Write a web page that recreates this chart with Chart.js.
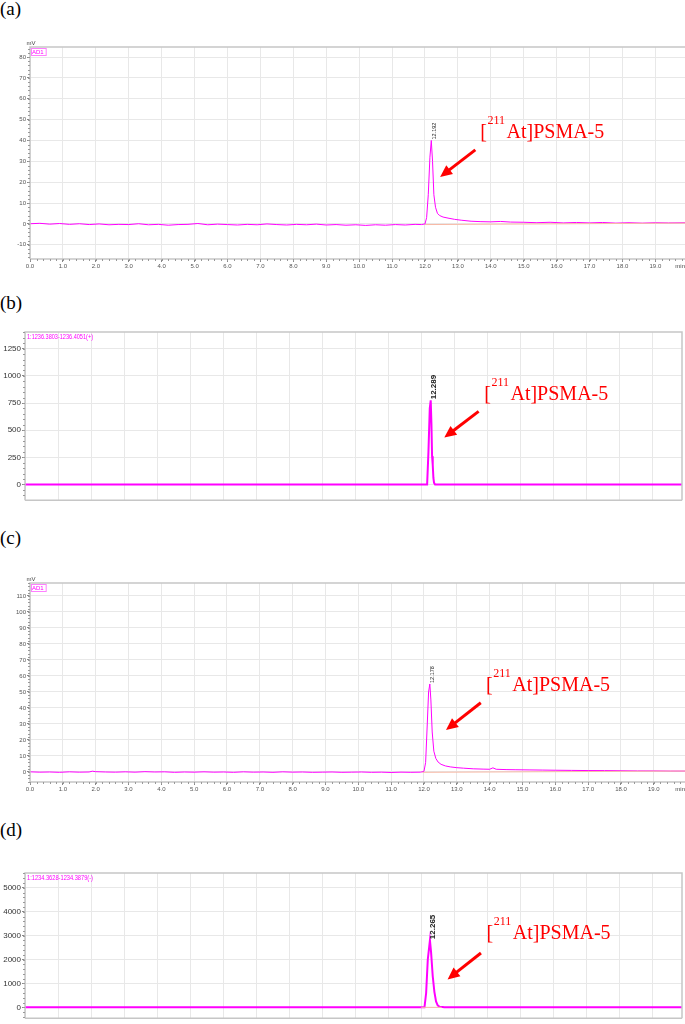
<!DOCTYPE html>
<html lang="en">
  <head>
    <meta charset="UTF-8" />
    <title>[211At]PSMA-5 chromatograms</title>
    <script src="https://cdn.jsdelivr.net/npm/chart.js@4.4.1/dist/chart.umd.min.js"></script>
    <style>
      body {
        margin: 0;
        background: #fff;
        width: 685px;
        height: 1024px;
        position: relative;
        overflow: hidden;
        font-family: 'Liberation Serif', 'Times New Roman', serif;
      }
      .panel-label {
        position: absolute;
        left: 0;
        font-size: 19px;
        line-height: 22px;
      }
      .panel {
        position: absolute;
        left: 0;
        width: 685px;
      }
    </style>
  </head>
  <body>
    <div class="panel-label" style="top: -2px">(a)</div>
    <div class="panel" style="top: 38px; height: 242px">
      <canvas id="chartA" width="685" height="242"></canvas>
    </div>

    <div class="panel-label" style="top: 292px">(b)</div>
    <div class="panel" style="top: 326px; height: 180px">
      <canvas id="chartB" width="685" height="180"></canvas>
    </div>

    <div class="panel-label" style="top: 527px">(c)</div>
    <div class="panel" style="top: 574px; height: 226px">
      <canvas id="chartC" width="685" height="226"></canvas>
    </div>

    <div class="panel-label" style="top: 819px">(d)</div>
    <div class="panel" style="top: 866px; height: 158px">
      <canvas id="chartD" width="685" height="158"></canvas>
    </div>

    <script>
      // --- data (time in min) ---
      const timesA = [
        0, 0.3, 0.6, 0.9, 1.2, 1.5, 1.8, 2.1, 2.4, 2.7, 3.0, 3.3, 3.6, 3.9, 4.2,
        4.5, 4.8, 5.1, 5.4, 5.7, 6.0, 6.3, 6.6, 6.9, 7.2, 7.5, 7.8, 8.1, 8.4,
        8.7, 9.0, 9.3, 9.6, 9.9, 10.2, 10.5, 10.8, 11.1, 11.4, 11.7, 11.9,
        12.0, 12.05, 12.1, 12.15, 12.192, 12.23, 12.27, 12.32, 12.38, 12.45,
        12.55, 12.7, 12.9, 13.1, 13.4, 13.7, 14.0, 14.3, 14.6, 15.0, 15.4,
        15.8, 16.2, 16.6, 17.0, 17.4, 17.8, 18.2, 18.6, 19.0, 19.4, 19.9,
      ];
      const valuesA = [
        0.1, 0.3, -0.1, 0.2, -0.2, 0.1, -0.3, 0.0, -0.4, -0.2, -0.3, 0.1, -0.4,
        -0.2, -0.6, -0.3, -0.2, 0.2, -0.4, -0.1, -0.3, -0.5, -0.2, -0.4, 0.0,
        -0.3, -0.5, -0.2, -0.4, -0.1, -0.5, -0.3, -0.6, -0.4, -0.7, -0.4,
        -0.6, -0.3, -0.5, -0.2, -0.3,
        0.0, 3, 14, 32, 40, 30, 14, 8, 5, 4,
        3.3, 2.8, 2.2, 1.8, 1.3, 1.1, 1.0, 1.2, 0.9, 0.8, 0.6,
        0.8, 0.5, 0.7, 0.5, 0.7, 0.4, 0.6, 0.4, 0.6, 0.5, 0.6,
      ];
      const baseTimesA = [12.0, 19.9];
      const baseValuesA = [-0.3, 0.4];

      const timesB = [0, 12.18, 12.22, 12.26, 12.289, 12.31, 12.33, 12.35, 12.37, 12.39, 12.42, 19.9];
      const valuesB = [0, 0, 300, 700, 775, 560, 260, 180, 60, 15, 0, 0];

      const timesC = [
        0, 0.3, 0.6, 0.9, 1.2, 1.5, 1.8, 1.9, 2.0, 2.3, 2.6, 2.9, 3.2, 3.5,
        3.8, 4.1, 4.4, 4.7, 5.0, 5.3, 5.6, 5.9, 6.2, 6.5, 6.8, 7.1, 7.4, 7.7,
        8.0, 8.3, 8.6, 8.9, 9.2, 9.5, 9.8, 10.1, 10.4, 10.7, 11.0, 11.3, 11.6,
        11.9, 12.0, 12.05, 12.1, 12.14, 12.178, 12.21, 12.25, 12.3, 12.36,
        12.43, 12.52, 12.65, 12.8, 13.0, 13.2, 13.5, 13.8, 14.0, 14.1, 14.2,
        14.5, 14.8, 15.2, 15.6, 16.0, 16.5, 17.0, 17.5, 18.0, 18.5, 19.0, 19.5,
        19.95,
      ];
      const valuesC = [
        0.1, -0.1, 0.0, -0.2, 0.1, -0.1, 0.0, 0.5, 0.2, 0.0, -0.1, 0.1, -0.1,
        0.2, 0.0, 0.1, -0.2, 0.0, -0.1, 0.1, -0.1, 0.0, -0.2, 0.1, -0.1, 0.0,
        -0.2, 0.1, -0.1, 0.0, -0.2, -0.1, 0.0, -0.2, -0.1, 0.0, -0.2, -0.1,
        -0.3, -0.1, -0.2,
        -0.1, 0.4, 6, 30, 50, 55, 45, 25, 13, 8.5,
        6.2, 4.8, 3.8, 3.2, 2.7, 2.4, 2.0, 1.8, 1.7, 2.6, 1.7,
        1.5, 1.4, 1.3, 1.2, 1.1, 1.0, 0.9, 0.9, 0.8, 0.7, 0.7, 0.6,
        0.6,
      ];
      const baseTimesC = [11.95, 19.95];
      const baseValuesC = [-0.2, 0.6];

      const timesD = [0, 12.1, 12.15, 12.2, 12.265, 12.3, 12.35, 12.4, 12.45, 12.5, 12.55, 12.65, 12.7, 19.9];
      const valuesD = [0, 0, 600, 2000, 2810, 2300, 1300, 650, 250, 80, 30, 10, 0, 0];
      const baseTimesD = [12.0, 12.62];
      const baseValuesD = [0, 0];

      // tick values
      const minuteTicks = [0, 1, 2, 3, 4, 5, 6, 7, 8, 9, 10, 11, 12, 13, 14, 15, 16, 17, 18, 19];
      const yTicksA = [-10, 0, 10, 20, 30, 40, 50, 60, 70, 80];
      const yTicksB = [0, 250, 500, 750, 1000, 1250];
      const yTicksC = [0, 10, 20, 30, 40, 50, 60, 70, 80, 90, 100, 110];
      const yTicksD = [0, 1000, 2000, 3000, 4000, 5000];

      // peaks
      const peakTimes = [12.192, 12.289, 12.178, 12.265];
      const peakHeights = [40, 775, 55, 2810];
      const peakLabels = ['12.192', '12.289', '12.178', '12.265'];

      const tags = ['AD1', '1:1236.3803-1236.4051(+)', 'AD1', '1:1234.3628-1234.3879(-)'];

      const pts = (xs, ys) => xs.map((t, i) => ({ x: t, y: ys[i] }));

      // draws frame, minor ticks, units, peak label, tag and the red annotation
      const chromDeco = {
        id: 'chromDeco',
        afterDraw(chart, args, o) {
          const ctx = chart.ctx;
          const area = chart.chartArea;
          const xs = chart.scales.x;
          const ys = chart.scales.y;
          ctx.save();

          ctx.strokeStyle = '#c6c6c6';
          ctx.lineWidth = 1.5;
          ctx.beginPath();
          ctx.moveTo(area.left, area.bottom);
          ctx.lineTo(area.left, area.top);
          ctx.lineTo(area.right, area.top);
          if (o.rightBorder) ctx.lineTo(area.right, area.bottom);
          ctx.moveTo(area.left, area.bottom);
          ctx.lineTo(area.right, area.bottom);
          ctx.stroke();

          // minor ticks
          ctx.strokeStyle = '#999';
          ctx.lineWidth = 1;
          ctx.beginPath();
          const n0 = Math.ceil(ys.min / o.minorY);
          const n1 = Math.floor(ys.max / o.minorY);
          for (let n = n0; n <= n1; n++) {
            const py = Math.round(ys.getPixelForValue(n * o.minorY)) + 0.5;
            ctx.moveTo(area.left - 2, py);
            ctx.lineTo(area.left, py);
          }
          if (o.minorX) {
            const m1 = Math.floor(xs.max / o.minorX);
            for (let n = 0; n <= m1; n++) {
              const px = Math.round(xs.getPixelForValue(n * o.minorX)) + 0.5;
              ctx.moveTo(px, area.bottom);
              ctx.lineTo(px, area.bottom + 2);
            }
          }
          ctx.stroke();

          // units
          if (o.units) {
            ctx.fillStyle = '#444';
            ctx.font = '6px "Liberation Sans"';
            ctx.textAlign = 'center';
            ctx.textBaseline = 'bottom';
            ctx.fillText('mV', area.left + 1, area.top - 1);
            ctx.textAlign = 'right';
            ctx.textBaseline = 'middle';
            ctx.fillText('min', area.right, area.bottom + 7);
          }

          // tag in the top-left corner
          const tag = tags[o.idx];
          ctx.fillStyle = '#ff00ff';
          ctx.textAlign = 'left';
          ctx.textBaseline = 'top';
          if (o.tagBox) {
            ctx.font = '6px "Liberation Sans"';
            ctx.fillText(tag, area.left + 2, area.top + 2);
            ctx.strokeStyle = '#ff80ff';
            ctx.lineWidth = 1;
            ctx.strokeRect(area.left + 1.5, area.top + 1.5, ctx.measureText(tag).width + 3, 7);
          } else {
            ctx.font = '8px "Liberation Sans Narrow", "Liberation Sans"';
            ctx.fillText(tag, area.left + 2, area.top + 1, 66);
          }

          // retention time label, rotated
          const lx = xs.getPixelForValue(peakTimes[o.idx]) + 3;
          const ly = ys.getPixelForValue(peakHeights[o.idx]) - 1;
          ctx.save();
          ctx.translate(lx, ly);
          ctx.rotate(-Math.PI / 2);
          ctx.fillStyle = '#222';
          ctx.font = o.peakFont;
          ctx.textAlign = 'left';
          ctx.textBaseline = 'middle';
          ctx.fillText(peakLabels[o.idx], 0, 0);
          ctx.restore();

          // red arrow + compound name
          const a = o.note;
          const x1 = xs.getPixelForValue(a.tailT);
          const y1 = ys.getPixelForValue(a.tailV);
          const x2 = xs.getPixelForValue(a.tipT);
          const y2 = ys.getPixelForValue(a.tipV);
          const ang = Math.atan2(y2 - y1, x2 - x1);
          const head = 12;
          const c = Math.cos(ang);
          const s = Math.sin(ang);
          ctx.strokeStyle = '#ff0000';
          ctx.fillStyle = '#ff0000';
          ctx.lineWidth = 3;
          ctx.beginPath();
          ctx.moveTo(x1, y1);
          ctx.lineTo(x2 - head * 0.8 * c, y2 - head * 0.8 * s);
          ctx.stroke();
          ctx.beginPath();
          ctx.moveTo(x2, y2);
          ctx.lineTo(x2 - head * c + 5.5 * s, y2 - head * s - 5.5 * c);
          ctx.lineTo(x2 - head * c - 5.5 * s, y2 - head * s + 5.5 * c);
          ctx.closePath();
          ctx.fill();

          const tx = xs.getPixelForValue(a.textT);
          const ty = ys.getPixelForValue(a.textV);
          ctx.textAlign = 'left';
          ctx.textBaseline = 'alphabetic';
          ctx.font = '20px "Liberation Serif"';
          ctx.fillText('[', tx, ty);
          let w = ctx.measureText('[').width + 0.5;
          ctx.font = '12px "Liberation Serif"';
          ctx.fillText('211', tx + w, ty - 14);
          w += ctx.measureText('211').width + 1.5;
          ctx.font = '20px "Liberation Serif"';
          ctx.fillText('At]PSMA-5', tx + w, ty);

          ctx.restore();
        },
      };

      function makeChart(id, cfg) {
        const tickFont = cfg.smallTicks
          ? { family: 'Liberation Sans', size: 6 }
          : { family: '"Liberation Sans Narrow", "Liberation Sans"', size: 8 };
        return new Chart(document.getElementById(id), {
          type: 'line',
          data: {
            datasets: [
              {
                data: cfg.base,
                borderColor: '#f7b9a6',
                borderWidth: 1,
                pointRadius: 0,
              },
              {
                data: cfg.trace,
                borderColor: '#ff00ff',
                borderWidth: cfg.lineWidth,
                pointRadius: 0,
                tension: 0,
              },
            ],
          },
          options: {
            responsive: false,
            animation: false,
            events: [],
            layout: { padding: { top: cfg.padTop, right: cfg.padRight, left: 0, bottom: 0 } },
            plugins: {
              legend: { display: false },
              tooltip: { enabled: false },
              chromDeco: cfg.deco,
            },
            scales: {
              x: {
                type: 'linear',
                min: 0,
                max: cfg.xMax,
                afterBuildTicks: (sc) => {
                  sc.ticks = minuteTicks.map((v) => ({ value: v }));
                },
                afterFit: (sc) => {
                  sc.height = cfg.xHeight;
                },
                border: { display: false },
                grid: {
                  color: '#e8e8e8',
                  tickColor: '#888',
                  tickLength: 3,
                  drawTicks: cfg.smallTicks,
                },
                ticks: {
                  display: cfg.smallTicks,
                  autoSkip: false,
                  maxRotation: 0,
                  padding: 1,
                  color: '#555',
                  font: tickFont,
                  callback: (v) => Number(v).toFixed(1),
                },
              },
              y: {
                min: cfg.yMin,
                max: cfg.yMax,
                afterBuildTicks: (sc) => {
                  sc.ticks = cfg.yTicks.map((v) => ({ value: v }));
                },
                afterFit: (sc) => {
                  sc.width = cfg.yWidth;
                },
                border: { display: false },
                grid: {
                  color: '#e8e8e8',
                  tickColor: '#888',
                  tickLength: 3,
                },
                ticks: {
                  padding: 1,
                  color: cfg.smallTicks ? '#555' : '#333',
                  font: tickFont,
                  callback: (v) => String(v),
                },
              },
            },
          },
          plugins: [chromDeco],
        });
      }

      makeChart('chartA', {
        trace: pts(timesA, valuesA),
        base: pts(baseTimesA, baseValuesA),
        lineWidth: 1,
        smallTicks: true,
        padTop: 9,
        padRight: 0,
        xHeight: 21,
        yWidth: 30,
        xMax: 19.9,
        yMin: -16.8,
        yMax: 84.8,
        yTicks: yTicksA,
        deco: {
          idx: 0,
          units: true,
          tagBox: true,
          minorY: 2,
          minorX: 0.2,
          peakFont: '5.5px "Liberation Sans"',
          note: { tailT: 13.53, tailV: 35.5, tipT: 12.46, tipV: 22.5, textT: 13.68, textV: 41.2 },
        },
      });

      makeChart('chartB', {
        trace: pts(timesB, valuesB),
        base: [],
        lineWidth: 2,
        smallTicks: false,
        padTop: 6,
        padRight: 3,
        xHeight: 3,
        yWidth: 25,
        xMax: 19.9,
        yMin: -145,
        yMax: 1404,
        yTicks: yTicksB,
        deco: {
          idx: 1,
          rightBorder: true,
          minorY: 50,
          peakFont: 'bold 8px "Liberation Sans"',
          note: { tailT: 13.74, tailV: 673, tipT: 12.7, tipV: 432, textT: 13.91, textV: 782 },
        },
      });

      makeChart('chartC', {
        trace: pts(timesC, valuesC),
        base: pts(baseTimesC, baseValuesC),
        lineWidth: 1,
        smallTicks: true,
        padTop: 9,
        padRight: 0,
        xHeight: 18,
        yWidth: 30,
        xMax: 19.95,
        yMin: -6.25,
        yMax: 118.1,
        yTicks: yTicksC,
        deco: {
          idx: 2,
          units: true,
          tagBox: true,
          minorY: 2,
          minorX: 0.2,
          peakFont: '5.5px "Liberation Sans"',
          note: { tailT: 13.73, tailV: 43.3, tipT: 12.67, tipV: 26.2, textT: 13.89, textV: 50.8 },
        },
      });

      makeChart('chartD', {
        trace: pts(timesD, valuesD),
        base: pts(baseTimesD, baseValuesD),
        lineWidth: 2,
        smallTicks: false,
        padTop: 7,
        padRight: 3,
        xHeight: 4,
        yWidth: 25,
        xMax: 19.9,
        yMin: -454,
        yMax: 5620,
        yTicks: yTicksD,
        deco: {
          idx: 3,
          rightBorder: true,
          minorY: 200,
          peakFont: 'bold 8px "Liberation Sans"',
          note: { tailT: 13.81, tailV: 2273, tipT: 12.8, tipV: 1170, textT: 13.98, textV: 2851 },
        },
      });
    </script>
  </body>
</html>
